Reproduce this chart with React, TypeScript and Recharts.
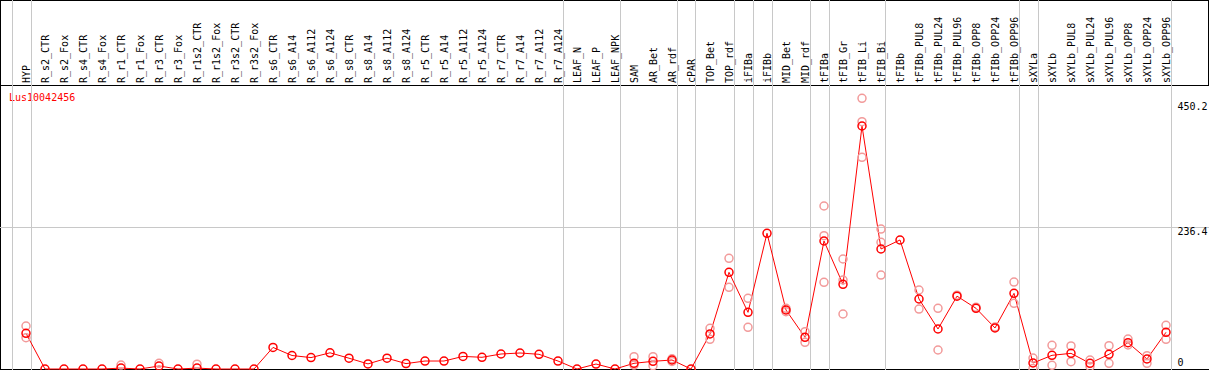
import React from 'react';
import { ComposedChart, Line, XAxis, YAxis, ReferenceLine, Customized } from 'recharts';

const categories = [
  'HYP', 'R_s2_CTR', 'R_s2_Fox', 'R_s4_CTR', 'R_s4_Fox', 'R_r1_CTR', 'R_r1_Fox', 'R_r3_CTR', 'R_r3_Fox',
  'R_r1s2_CTR', 'R_r1s2_Fox', 'R_r3s2_CTR', 'R_r3s2_Fox', 'R_s6_CTR', 'R_s6_A14', 'R_s6_A112', 'R_s6_A124',
  'R_s8_CTR', 'R_s8_A14', 'R_s8_A112', 'R_s8_A124', 'R_r5_CTR', 'R_r5_A14', 'R_r5_A112', 'R_r5_A124',
  'R_r7_CTR', 'R_r7_A14', 'R_r7_A112', 'R_r7_A124', 'LEAF_N', 'LEAF_P', 'LEAF_NPK', 'SAM', 'AR_Bet', 'AR_rdf',
  'cPAR', 'TOP_Bet', 'TOP_rdf', 'iFIBa', 'iFIBb', 'MID_Bet', 'MID_rdf', 'tFIBa', 'tFIB_Gr', 'tFIB_Li', 'tFIB_Bi',
  'tFIBb', 'tFIBb_PUL8', 'tFIBb_PUL24', 'tFIBb_PUL96', 'tFIBb_OPP8', 'tFIBb_OPP24', 'tFIBb_OPP96',
  'sXYLa', 'sXYLb', 'sXYLb_PUL8', 'sXYLb_PUL24', 'sXYLb_PUL96', 'sXYLb_OPP8', 'sXYLb_OPP24', 'sXYLb_OPP96',
];

const meanValues = [
  59.5, 0, 0, 0, 0, 1.5, 0, 5, 0,
  1.5, 0, 0, 0, 36, 22.5, 19, 27,
  18, 8.5, 18, 9, 13.3, 13.3, 21, 19.5,
  25, 26.7, 24.5, 13.3, 0, 8.3, 0, 9.5, 12.8, 15,
  0, 58.4, 161.2, 94.5, 226.3, 98.4, 52.8, 213.4, 141.2, 405.2, 200.1,
  215.1, 116.7, 66.7, 121.5, 101.2, 68.4, 126.2,
  10, 22.8, 26.1, 9.5, 24.5, 43.9, 16.7, 61.2,
];

const rep1 = [
  71.7, null, null, null, null, 6.5, null, 9.5, null,
  8, null, null, null, null, null, null, null,
  null, null, null, null, null, null, null, null,
  null, null, null, null, null, null, null, 20.5, 20.5, 12.5,
  null, 67.8, 184.6, 117.9, null, 101.2, 62.2, 271.8, 183.4, 451.4, 233.4,
  null, 131.7, 101.2, 123, 103, 70, 145,
  18.3, 39.5, 38.4, 15, 38.9, 50, 22.2, 72.9,
];

const rep2 = [
  52.2, null, null, null, null, null, null, null, null,
  null, null, null, null, null, null, null, null,
  null, null, null, null, null, null, null, null,
  null, null, null, null, null, null, null, 6.5, 5.5, 17,
  null, 49.5, 136.2, 69.5, null, 95.5, 44.5, 222.3, 148.4, 412.4, 211.3,
  null, 100, 31.7, null, null, null, 109.5,
  1, 6.1, 12.2, 4, 9.5, 40, 9.5, 49.5,
];

const rep3 = [
  null, null, null, null, null, null, null, null, null,
  null, null, null, null, null, null, null, null,
  null, null, null, null, null, null, null, null,
  null, null, null, null, null, null, null, null, null, null,
  null, null, null, null, null, null, null, 144.6, 91.7, 353, 156.7,
  null, null, null, null, null, null, null,
  null, null, null, null, null, null, null, null,
];

const yTicks = [0, 236.4, 450.2];
const yMax = 473.54;
const geneLabel = 'Lus10042456';
const groupEnds = [
  'HYP', 'R_r7_A124', 'LEAF_NPK', 'AR_rdf', 'cPAR', 'TOP_rdf', 'iFIBa', 'iFIBb', 'MID_rdf',
  'tFIBa', 'tFIB_Bi', 'tFIBb_OPP96', 'sXYLa', 'sXYLb_OPP96',
];

const data = categories.map((name, i) => ({
  idx: i,
  name,
  mean: meanValues[i],
  r1: rep1[i],
  r2: rep2[i],
  r3: rep3[i],
}));

const separatorIdx = [-1, ...groupEnds.map((n) => categories.indexOf(n))];

const W = 1209;
const H = 370;
const MONO = '"DejaVu Sans Mono", monospace';

const MeanDot = (props: any) => {
  const { cx, cy, value, index } = props;
  if (value == null || cx == null || cy == null) return <g key={`m${index}`} />;
  return <circle key={`m${index}`} cx={cx} cy={cy} r={4} fill="none" stroke="#ff0000" strokeWidth={1.5} />;
};

const RepDot = (props: any) => {
  const { cx, cy, value, index, dataKey } = props;
  if (value == null || cx == null || cy == null) return <g key={`${dataKey}${index}`} />;
  return <circle key={`${dataKey}${index}`} cx={cx} cy={cy} r={4} fill="none" stroke="#f29a9a" strokeWidth={1.5} />;
};

const XTick = (props: any) => {
  const { x, payload } = props;
  const name = categories[payload.value];
  if (!name) return <g />;
  return (
    <text transform={`translate(${x + 3.5},83) rotate(-90)`} fontSize={10} fontFamily={MONO} fill="#000">
      {name}
    </text>
  );
};

const yLabelOffset: Record<string, number> = { '0': -6.5, '236.4': 4.5, '450.2': 7.5 };

const YTick = (props: any) => {
  const { x, y, payload } = props;
  const off = yLabelOffset[String(payload.value)] ?? 0;
  return (
    <text x={x} y={y + off} dominantBaseline="central" fontSize={10} fontFamily={MONO} fill="#000">
      {String(payload.value)}
    </text>
  );
};

const SepShape = (props: any) => {
  const { x1 } = props;
  if (x1 == null) return <g />;
  const x = Math.round(x1 + 4.5) + 0.5;
  return <line x1={x} y1={0} x2={x} y2={H} stroke="#c8c8c8" strokeWidth={1} />;
};

const GridShape = (props: any) => {
  const { y1 } = props;
  if (y1 == null) return <g />;
  const y = Math.round(y1) + 0.5;
  return <line x1={0} y1={y} x2={W} y2={y} stroke="#c8c8c8" strokeWidth={1} />;
};

const Frame = () => (
  <g>
    <line x1={0} y1={0.5} x2={W} y2={0.5} stroke="#000" />
    <line x1={0.5} y1={0} x2={0.5} y2={H} stroke="#000" />
    <line x1={0} y1={85.5} x2={W} y2={85.5} stroke="#000" />
    <line x1={0} y1={369.5} x2={W} y2={369.5} stroke="#000" />
    <line x1={W - 0.5} y1={0} x2={W - 0.5} y2={85} stroke="#000" />
    <text x={9} y={100.5} fill="#ff0000" fontSize={10} fontFamily={MONO}>
      {geneLabel}
    </text>
  </g>
);

export default function App() {
  return (
    <div style={{ position: 'absolute', left: 0, top: 0, width: W, height: H, background: '#fff' }}>
      <ComposedChart width={W} height={H} data={data} margin={{ top: 0, right: 0, left: 7, bottom: 1 }}>
        <XAxis
          dataKey="idx"
          type="number"
          orientation="top"
          height={85}
          domain={[-1, 60.5]}
          ticks={categories.map((_, i) => i)}
          interval={0}
          tick={<XTick />}
          tickLine={false}
          axisLine={false}
        />
        <YAxis
          orientation="right"
          width={33.5}
          domain={[0, yMax]}
          ticks={yTicks}
          interval={0}
          tick={<YTick />}
          tickLine={false}
          tickSize={0}
          tickMargin={2}
          axisLine={false}
        />
        <ReferenceLine y={236.4} shape={<GridShape />} ifOverflow="visible" />
        {separatorIdx.map((i) => (
          <ReferenceLine key={`sep${i}`} x={i} shape={<SepShape />} ifOverflow="visible" />
        ))}
        <Line dataKey="r1" stroke="none" dot={<RepDot dataKey="r1" />} activeDot={false} isAnimationActive={false} />
        <Line dataKey="r2" stroke="none" dot={<RepDot dataKey="r2" />} activeDot={false} isAnimationActive={false} />
        <Line dataKey="r3" stroke="none" dot={<RepDot dataKey="r3" />} activeDot={false} isAnimationActive={false} />
        <Line
          dataKey="mean"
          stroke="#ff0000"
          strokeWidth={1}
          dot={<MeanDot />}
          activeDot={false}
          isAnimationActive={false}
        />
        <Customized component={Frame} />
      </ComposedChart>
    </div>
  );
}
